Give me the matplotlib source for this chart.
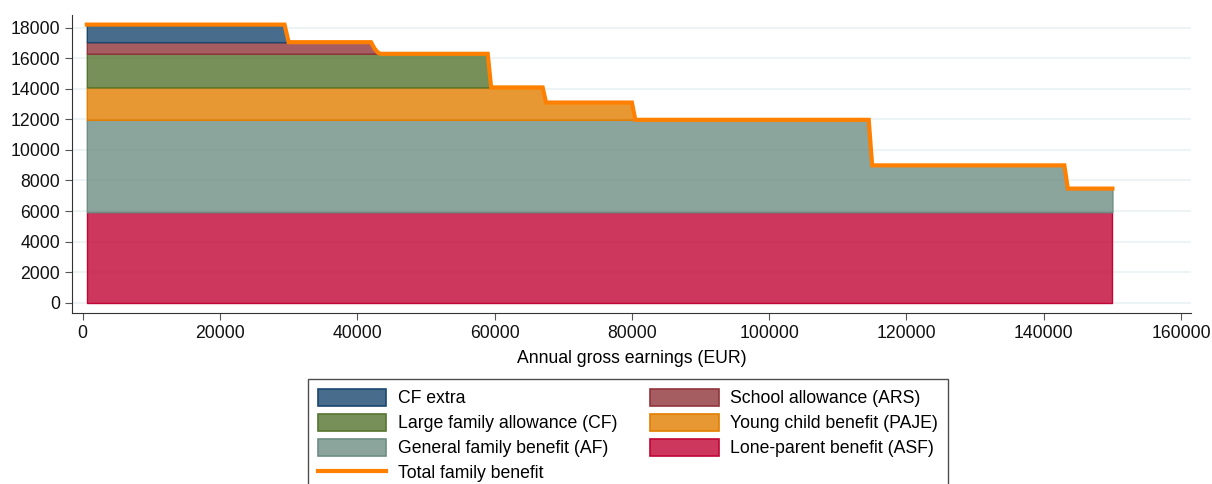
import matplotlib
matplotlib.use("Agg")
import matplotlib.pyplot as plt
import numpy as np
from matplotlib.patches import Patch
from matplotlib.lines import Line2D
from matplotlib.colors import to_rgba

plt.rcParams['font.family'] = ['Liberation Sans', 'DejaVu Sans']

# annual gross earnings (EUR) at the breakpoints
earnings = [600, 29400, 30000, 42000, 42500, 43000, 43400, 59000, 59500,
            67000, 67500, 80000, 80500, 114500, 115000, 143000, 143500, 150000]

# benefit amounts (EUR per year) at each breakpoint
asf = [5930] * 18
af = [6040] * 14 + [3060, 3060, 1540, 1540]
paje = [2120] * 10 + [1130, 1130] + [0] * 6
cf = [2200] * 8 + [0] * 10
ars = [760, 760, 760, 760, 350, 80] + [0] * 12
cf_extra = [1150, 1150] + [0] * 16

labels = ['Lone-parent benefit (ASF)', 'General family benefit (AF)',
          'Young child benefit (PAJE)', 'Large family allowance (CF)',
          'School allowance (ARS)', 'CF extra']
colors = ['#c10534', '#6e8e84', '#e37e00', '#55752f', '#90353b', '#1a476f']
layers = [asf, af, paje, cf, ars, cf_extra]

fig = plt.figure(figsize=(12.12, 4.84), dpi=100)
ax = fig.add_axes([0.0594, 0.353, 0.923, 0.617])

x = np.array(earnings)
base = np.zeros(len(x))
handles = {}
for lab, col, vals in zip(labels, colors, layers):
    top = base + np.array(vals)
    ax.fill_between(x, base, top, facecolor=to_rgba(col, 0.8), edgecolor=col,
                    linewidth=1, zorder=3)
    handles[lab] = Patch(facecolor=to_rgba(col, 0.8), edgecolor=col, linewidth=1.2)
    base = top

# total = sum of all layers
ax.plot(x, base, color='#ff8000', linewidth=3, zorder=4,
        solid_joinstyle='miter')
handles['Total family benefit'] = Line2D([], [], color='#ff8000', linewidth=3)

ax.set_xlim(-1560, 161400)
ax.set_ylim(-680, 18860)
ax.set_xticks(np.arange(0, 160001, 20000))
ax.set_yticks(np.arange(0, 18001, 2000))
ax.grid(axis='y', color='#eaf2f3', linewidth=1.2, zorder=0)
ax.set_axisbelow(True)
for s in ['top', 'right']:
    ax.spines[s].set_visible(False)
for s in ['left', 'bottom']:
    ax.spines[s].set_color('#333333')
ax.tick_params(axis='both', length=5, color='#555555', labelsize=12.7,
               labelcolor='#111111')
ax.set_xlabel('Annual gross earnings (EUR)', fontsize=12.7, labelpad=6)

order = ['CF extra', 'Large family allowance (CF)', 'General family benefit (AF)',
         'Total family benefit', 'School allowance (ARS)',
         'Young child benefit (PAJE)', 'Lone-parent benefit (ASF)']
leg = fig.legend([handles[k] for k in order], order, ncol=2,
                 loc='upper left', bbox_to_anchor=(308 / 1212, 1 - 379 / 484),
                 fontsize=12.7, frameon=True, fancybox=False,
                 edgecolor='#222222', handlelength=3.9, handleheight=1.1,
                 handletextpad=0.65, columnspacing=1.85, borderaxespad=0,
                 borderpad=0.55, labelspacing=0.37)
leg.get_frame().set_linewidth(1)

fig.savefig('out.png', dpi=100)
